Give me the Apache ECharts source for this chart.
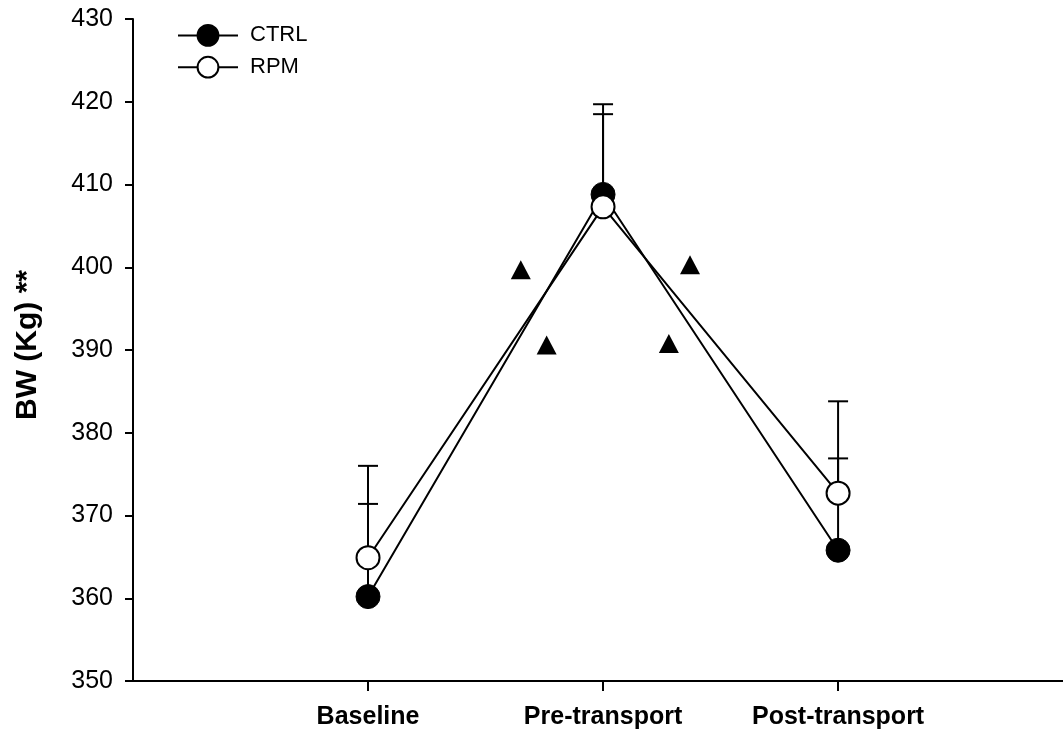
<!DOCTYPE html>
<html>
<head>
<meta charset="utf-8">
<script src="https://cdn.jsdelivr.net/npm/echarts@6/dist/echarts.min.js"></script>
<style>html,body{margin:0;padding:0;background:#fff}#c{width:1063px;height:736px}</style>
</head>
<body>
<div id="c"></div>
<script>
var categories = ['Baseline', 'Pre-transport', 'Post-transport'];
var catX = [1, 2, 3];
var ctrlMean = [360.2, 408.8, 365.8];
var ctrlUpper = [371.4, 419.7, 376.9];
var rpmMean = [364.9, 407.3, 372.7];
var rpmUpper = [376.0, 418.5, 383.8];
var triX = [1.65, 1.76, 2.28, 2.37];
var triY = [399.7, 390.6, 390.8, 400.3];
var yTicks = [350, 360, 370, 380, 390, 400, 410, 420, 430];

var FONT = 'Liberation Sans, Arial, sans-serif';
var chart = echarts.init(document.getElementById('c'), null, {renderer: 'canvas'});

function pts(xs, ys) { return xs.map(function (x, i) { return [x, ys[i]]; }); }
var errData = [];
catX.forEach(function (x, i) { errData.push([x, ctrlMean[i], ctrlUpper[i]]); });
catX.forEach(function (x, i) { errData.push([x, rpmMean[i], rpmUpper[i]]); });

var option = {
  animation: false,
  backgroundColor: '#fff',
  textStyle: {fontFamily: FONT},
  grid: {left: 133, right: 0, top: 19, bottom: 55, containLabel: false},
  legend: {
    orient: 'vertical', left: 172, top: 19, itemWidth: 60, itemHeight: 26, itemGap: 9,
    textStyle: {fontSize: 22, color: '#000', fontFamily: FONT, padding: [0, 0, 0, 7]},
    data: ['CTRL', 'RPM']
  },
  xAxis: {
    type: 'value', min: 0, max: 3.957,
    splitLine: {show: false},
    axisLine: {show: true, lineStyle: {color: '#000', width: 2}},
    axisTick: {show: true, length: 10, lineStyle: {color: '#000', width: 2}, customValues: catX},
    axisLabel: {
      customValues: catX, margin: 24, color: '#000', fontSize: 25, fontWeight: 'bold', fontFamily: FONT,
      formatter: function (v) { var i = catX.indexOf(v); return i >= 0 ? categories[i] : ''; }
    }
  },
  yAxis: {
    type: 'value', min: yTicks[0], max: yTicks[yTicks.length - 1], interval: 10,
    name: 'BW (Kg) **', nameLocation: 'middle', nameRotate: 90, nameGap: 90,
    nameTextStyle: {fontSize: 30, fontWeight: 'bold', color: '#000', fontFamily: FONT, padding: [0, 0, 0, 10]},
    splitLine: {show: false},
    axisLine: {show: true, lineStyle: {color: '#000', width: 2}},
    axisTick: {show: true, length: 8, lineStyle: {color: '#000', width: 2}},
    axisLabel: {margin: 20, color: '#000', fontSize: 25, fontFamily: FONT}
  },
  series: [
    {
      type: 'custom', name: 'err', z: 1, silent: true,
      data: errData,
      renderItem: function (params, api) {
        var x = api.value(0);
        var p0 = api.coord([x, api.value(1)]);
        var p1 = api.coord([x, api.value(2)]);
        var hw = 10;
        return {
          type: 'group', children: [
            {type: 'line', shape: {x1: p0[0], y1: p0[1], x2: p1[0], y2: p1[1]}, style: {stroke: '#000', lineWidth: 2}},
            {type: 'line', shape: {x1: p1[0] - hw, y1: p1[1], x2: p1[0] + hw, y2: p1[1]}, style: {stroke: '#000', lineWidth: 2}}
          ]
        };
      }
    },
    {
      type: 'line', name: 'CTRL', z: 3, data: pts(catX, ctrlMean),
      symbol: 'circle', symbolSize: 24,
      itemStyle: {color: '#000', borderColor: '#000', borderWidth: 1},
      lineStyle: {color: '#000', width: 2}
    },
    {
      type: 'line', name: 'RPM', z: 4, data: pts(catX, rpmMean),
      symbol: 'circle', symbolSize: 23,
      itemStyle: {color: '#fff', borderColor: '#000', borderWidth: 2},
      lineStyle: {color: '#000', width: 2}
    },
    {
      type: 'scatter', name: 'sig', z: 5, data: pts(triX, triY),
      symbol: 'triangle', symbolSize: [20, 19],
      itemStyle: {color: '#000', opacity: 1}
    }
  ]
};
chart.setOption(option);
</script>
</body>
</html>
